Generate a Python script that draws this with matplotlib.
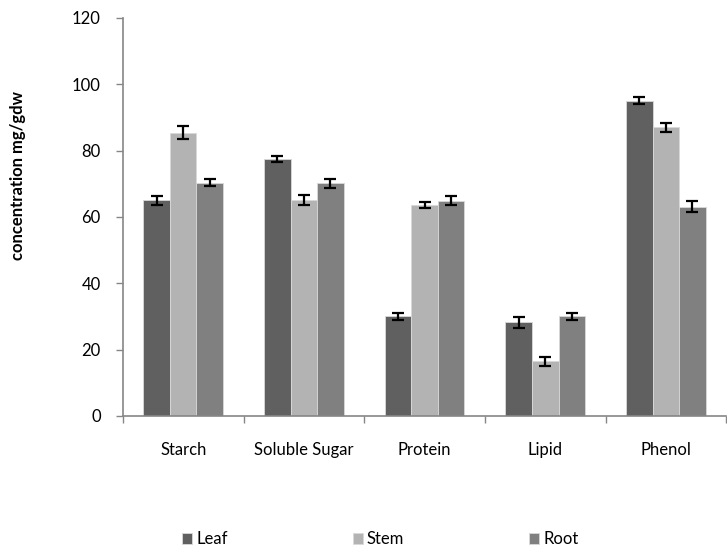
import numpy as np
import matplotlib
matplotlib.use('Agg')
import matplotlib.pyplot as plt

plt.rcParams['font.family'] = ['Lato', 'DejaVu Sans']

# data
categories = ['Starch', 'Soluble Sugar', 'Protein', 'Lipid', 'Phenol']
leaf = [65.0, 77.4, 30.0, 28.2, 95.1]
stem = [85.4, 65.1, 63.5, 16.4, 87.0]
root = [70.3, 70.1, 64.9, 30.0, 63.0]
leaf_err = [1.4, 0.85, 1.05, 1.65, 1.05]
stem_err = [1.9, 1.5, 0.9, 1.4, 1.4]
root_err = [1.0, 1.4, 1.4, 1.1, 1.65]

series = [('Leaf', leaf, leaf_err, '#606060'),
          ('Stem', stem, stem_err, '#b3b3b3'),
          ('Root', root, root_err, '#808080')]

fig = plt.figure(figsize=(7.27, 5.53), dpi=100)
ax = fig.add_axes([0.169, 0.248, 0.830, 0.7195])

x = np.arange(len(categories))
w = 0.22
for i, (name, vals, err, col) in enumerate(series):
    ax.bar(x + (i - 1) * w, vals, w, color=col, edgecolor='#d9d9d9', linewidth=0.6,
           label=name, yerr=err, capsize=4.5,
           error_kw=dict(ecolor='black', elinewidth=1.6, capthick=1.6))

ax.set_xlim(-0.5, len(categories) - 0.5)
ax.set_ylim(0, 120)
ax.set_yticks(range(0, 121, 20))
ax.set_xticks(x)
ax.set_xticklabels(categories)
# tick marks sit between the categories
ax.set_xticks(np.arange(-0.5, len(categories), 1), minor=True)
ax.tick_params(axis='x', which='major', length=0, pad=19)
ax.tick_params(axis='x', which='minor', length=5, color='#868686', width=1)
ax.tick_params(axis='y', length=5, color='#868686', width=1, pad=11)
ax.tick_params(labelsize=12)

for s in ['top', 'right']:
    ax.spines[s].set_visible(False)
for s in ['left', 'bottom']:
    ax.spines[s].set_color('#868686')
    ax.spines[s].set_linewidth(1.2)

ax.set_ylabel('concentration mg/gdw', fontsize=12, fontweight='bold')
ax.yaxis.set_label_coords(-0.160, 0.603)

fig.legend(loc='center', bbox_to_anchor=(0.523, 0.025), ncol=3, frameon=False,
           fontsize=12, handlelength=0.6, handleheight=0.6, handletextpad=0.25,
           columnspacing=7.5, borderpad=0)

fig.savefig('out.png', dpi=100)
